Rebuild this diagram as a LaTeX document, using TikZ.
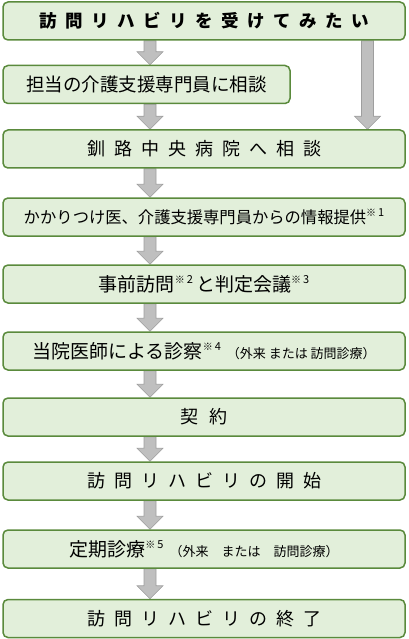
\documentclass[tikz,border=0pt]{standalone}
\usepackage{fontspec}
\setmainfont{Noto Sans CJK JP}
\usetikzlibrary{calc,backgrounds}
\definecolor{boxline}{HTML}{5A8A3C}
\definecolor{boxfill}{HTML}{E2EFDA}
\definecolor{arrfill}{HTML}{BFBFBF}
\definecolor{arrline}{HTML}{9E9E9E}
\makeatletter
\newcommand\Spaced[2][9pt]{\def\spc@g{#1}\spc@i#2\relax}
\def\spc@i#1{\ifx\relax#1\else #1\expandafter\spc@j\fi}
\def\spc@j#1{\ifx\relax#1\else\hspace{\spc@g}#1\expandafter\spc@j\fi}
\makeatother
\newcommand\Sup[1]{\raisebox{0.42em}{\fontsize{10}{10}\selectfont ※\hspace{2pt}\fontsize{11}{11}\selectfont #1}}
\tikzset{
  box/.style={draw=boxline, fill=boxfill, line width=1.5pt, rounded corners=5pt,
    minimum height=38pt, minimum width=402pt, inner sep=0pt, text=black},
  arr/.style={fill=arrfill, draw=arrline, line width=0.6pt, line join=miter}
}
\newcommand\BArrow[3]{%
  \draw[arr] let \p1=(#2.south -| #1), \p2=(#3.north -| #1) in
    (\x1-6pt,\y1) -- (\x1+6pt,\y1) -- (\x1+6pt,\y2+13pt) -- (\x1+13pt,\y2+13pt)
    -- (\x2,\y2) -- (\x1-13pt,\y2+13pt) -- (\x1-6pt,\y2+13pt) -- cycle;}
\begin{document}
\begin{tikzpicture}[x=1pt,y=-1pt]
\useasboundingbox (0,0) rectangle (408,639);
\coordinate (colA) at (150,0);
\coordinate (colB) at (367.5,0);
\node[box] (b1) at (204,21) {\fontsize{17.5}{17.5}\selectfont\bfseries\Spaced[8.5pt]{訪問リハビリを受けてみたい}};
\node[box, minimum width=287pt] (b2) at (146.5,84.5) {\fontsize{18.5}{18.5}\selectfont 担当の介護支援専門員に相談};
\node[box] (b3) at (204,149) {\fontsize{18}{18}\selectfont\Spaced[9pt]{釧路中央病院へ相談}};
\node[box] (b4) at (204,217) {\fontsize{16.3}{16.3}\selectfont かかりつけ医、介護支援専門員からの情報提供\Sup{1}};
\node[box] (b5) at (204,284) {\fontsize{19}{19}\selectfont 事前訪問\Sup{2}\hspace{3pt}と判定会議\Sup{3}};
\node[box] (b6) at (204,351) {\fontsize{19}{19}\selectfont 当院医師による診察\Sup{4}\hspace{6pt}\fontsize{13}{13}\selectfont （外来 または 訪問診療）};
\node[box] (b7) at (204,417) {\fontsize{18}{18}\selectfont\Spaced[11pt]{契約}};
\node[box] (b8) at (204,481) {\fontsize{18}{18}\selectfont\Spaced[9pt]{訪問リハビリの開始}};
\node[box] (b9) at (204,549) {\fontsize{19}{19}\selectfont 定期診療\Sup{5}\hspace{6pt}\fontsize{13}{13}\selectfont （外来　または　訪問診療）};
\node[box] (b10) at (204,618.5) {\fontsize{18}{18}\selectfont\Spaced[9pt]{訪問リハビリの終了}};
\begin{scope}[on background layer]
\BArrow{colA}{b1}{b2}
\BArrow{colA}{b2}{b3}
\BArrow{colB}{b1}{b3}
\BArrow{colA}{b3}{b4}
\BArrow{colA}{b4}{b5}
\BArrow{colA}{b5}{b6}
\BArrow{colA}{b6}{b7}
\BArrow{colA}{b7}{b8}
\BArrow{colA}{b8}{b9}
\BArrow{colA}{b9}{b10}
\end{scope}
\end{tikzpicture}
\end{document}
